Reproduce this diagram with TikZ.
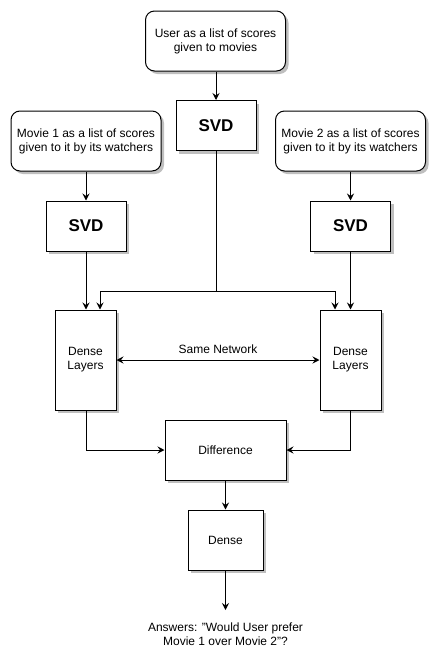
\documentclass[tikz,border=0pt]{standalone}
\usepackage{fontspec}
\setmainfont{Liberation Sans}
\usetikzlibrary{arrows.meta,shadows}
\begin{document}
\begin{tikzpicture}[x=1pt,y=-1pt,
  every node/.style={font=\fontsize{12}{14}\selectfont},
  sh/.style={drop shadow={shadow xshift=3pt,shadow yshift=-3pt,fill=black!25,opacity=1}},
  box/.style={draw=black,line width=1pt,fill=white,sh,inner sep=0pt,align=center},
  rbox/.style={box,rounded corners=9pt},
  svdbox/.style={box,font=\fontsize{17}{20}\selectfont\bfseries},
  arr/.style={line width=1pt,-{Stealth[length=7pt,width=7pt,inset=2.5pt]}},
  darr/.style={line width=1pt,{Stealth[length=7pt,width=7pt,inset=2.5pt]}-{Stealth[length=7pt,width=7pt,inset=2.5pt]}},
  ln/.style={line width=1pt}]
\useasboundingbox (0,0) rectangle (438,664);
\node[rbox,minimum width=140pt,minimum height=60pt] (user) at (215.5,41) {User as a list of scores\\given to movies};
\node[svdbox,minimum width=80pt,minimum height=50pt] (svdu) at (216,125.5) {SVD};
\node[rbox,minimum width=150pt,minimum height=60pt] (m1) at (86,141) {Movie 1 as a list of scores\\given to it by its watchers};
\node[rbox,minimum width=150pt,minimum height=60pt] (m2) at (350.5,141) {Movie 2 as a list of scores\\given to it by its watchers};
\node[svdbox,minimum width=80pt,minimum height=50pt] (svd1) at (86,226) {SVD};
\node[svdbox,minimum width=80pt,minimum height=50pt] (svd2) at (350.5,226) {SVD};
\node[box,minimum width=61pt,minimum height=100pt] (d1) at (85.5,360) {Dense\\Layers};
\node[box,minimum width=61pt,minimum height=100pt] (d2) at (350.5,360) {Dense\\Layers};
\node[box,minimum width=121pt,minimum height=60pt] (diff) at (225.5,450) {Difference};
\node[box,minimum width=75pt,minimum height=60pt] (dense) at (225.5,540) {Dense};
\node[align=center] (ans) at (225.5,634) {Answers: "Would User prefer\\Movie 1 over Movie 2"?};
\coordinate (end) at (225.5,610);
\coordinate (br) at (216,291);
\draw[arr] (user.south -| svdu) -- (svdu.north);
\draw[arr] (m1) -- (svd1);
\draw[arr] (m2) -- (svd2);
\draw[arr] (svd1.south) -- (svd1.south |- d1.north);
\draw[arr] (svd2.south) -- (svd2.south |- d2.north);
\draw[ln] (svdu.south) -- (br);
\draw[arr] (br) -| ([xshift=14.5pt]d1.north);
\draw[arr] (br) -| ([xshift=-15.5pt]d2.north);
\draw[darr] (d1.east) -- (d2.west) node[midway,above=5pt,inner sep=1pt] (sn) {Same Network};
\draw[arr] ([xshift=0.5pt]d1.south) |- (diff.west);
\draw[arr] (d2.south) |- (diff.east);
\draw[arr] (diff) -- (dense);
\draw[arr] (dense.south) -- (end);
\end{tikzpicture}
\end{document}
